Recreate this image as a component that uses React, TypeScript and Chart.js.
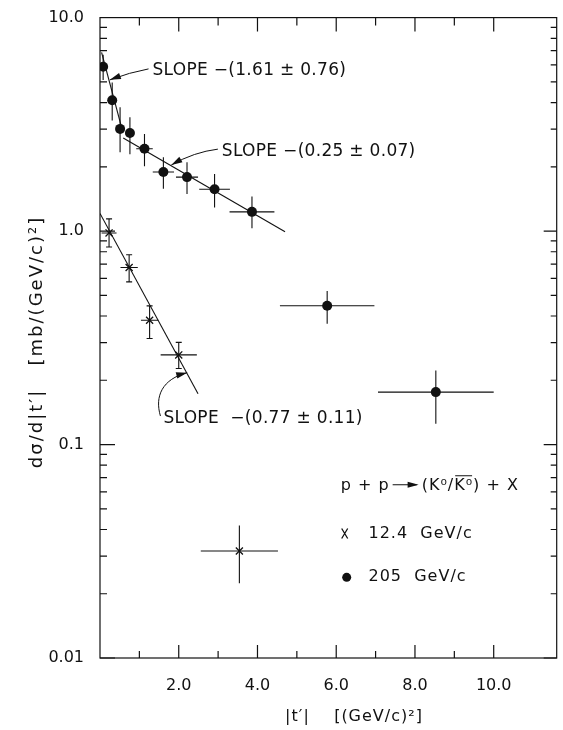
import React, { useEffect, useRef } from 'react';
import { Chart, registerables } from 'chart.js';

Chart.register(...registerables);

// ---- data: 205 GeV/c (filled circles) ----
const t205 = [0.08, 0.31, 0.51, 0.76, 1.13, 1.61, 2.21, 2.91, 3.86, 5.77, 8.53];
const v205 = [5.89, 4.10, 3.01, 2.88, 2.43, 1.89, 1.79, 1.57, 1.23, 0.447, 0.176];
const v205Low = [5.1, 3.3, 2.34, 2.29, 2.01, 1.58, 1.49, 1.29, 1.03, 0.368, 0.125];
const v205High = [6.7, 4.97, 3.8, 3.41, 2.85, 2.22, 2.1, 1.85, 1.45, 0.524, 0.222];
const t205Err = [0, 0, 0, 0, 0.21, 0.27, 0.28, 0.39, 0.57, 1.2, 1.47];

// ---- data: 12.4 GeV/c (crosses) ----
const t124 = [0.23, 0.74, 1.26, 2.0, 3.54];
const v124 = [0.98, 0.675, 0.382, 0.263, 0.0317];
const v124Low = [0.842, 0.578, 0.314, 0.227, 0.0224];
const v124High = [1.14, 0.775, 0.446, 0.301, 0.0418];
const t124Err = [0.19, 0.22, 0.22, 0.46, 0.98];
const v124Capped = [true, true, true, true, false];

// ---- fitted slopes (end points) ----
const fitSteepT = [0.04, 0.58];
const fitSteepV = [6.87, 2.91];
const fitShallowT = [0.59, 4.7];
const fitShallowV = [2.73, 0.993];
const fit124T = [0, 2.49];
const fit124V = [1.21, 0.173];

// ---- ticks ----
const yTickValues = [0.01, 0.1, 1, 10];
const yTickLabels = ['0.01', '0.1', '1.0', '10.0'];
const xTickValues = [2, 4, 6, 8, 10];
const xTickLabels = ['2.0', '4.0', '6.0', '8.0', '10.0'];

// ---- text ----
const slopeSteep = 'SLOPE \u2212(1.61 \u00b1 0.76)';
const slopeShallow = 'SLOPE \u2212(0.25 \u00b1 0.07)';
const slope124 = 'SLOPE  \u2212(0.77 \u00b1 0.11)';
const legend124 = '12.4  GeV/c';
const legend205 = '205  GeV/c';
const xTitle = '|t\u2032|    [(GeV/c)\u00b2]';
const yTitle = 'd\u03c3/d|t\u2032|   [mb/(GeV/c)\u00b2]';

const FONT = '"DejaVu Sans", sans-serif';
const INK = '#111';

function arrowHead(ctx: CanvasRenderingContext2D, x: number, y: number, ang: number, len = 11, w = 3.2) {
  const c = Math.cos(ang), s = Math.sin(ang);
  ctx.beginPath();
  ctx.moveTo(x, y);
  ctx.lineTo(x - len * c + w * s, y - len * s - w * c);
  ctx.lineTo(x - len * c - w * s, y - len * s + w * c);
  ctx.closePath();
  ctx.fill();
}

const errorBars = {
  id: 'errorBars',
  beforeDatasetsDraw(chart: any) {
    const { ctx, scales: { x, y } } = chart;
    ctx.save();
    ctx.strokeStyle = INK;
    ctx.lineWidth = 1.1;
    const bar = (t: number, v: number, lo: number, hi: number, dt: number, cap: boolean) => {
      const px = x.getPixelForValue(t);
      const py = y.getPixelForValue(v);
      const pLo = y.getPixelForValue(lo);
      const pHi = y.getPixelForValue(hi);
      ctx.beginPath();
      ctx.moveTo(px, pLo);
      ctx.lineTo(px, pHi);
      if (cap) {
        ctx.moveTo(px - 3, pLo); ctx.lineTo(px + 3, pLo);
        ctx.moveTo(px - 3, pHi); ctx.lineTo(px + 3, pHi);
      }
      if (dt > 0) {
        ctx.moveTo(x.getPixelForValue(t - dt), py);
        ctx.lineTo(x.getPixelForValue(t + dt), py);
      }
      ctx.stroke();
    };
    t205.forEach((t, i) => bar(t, v205[i], v205Low[i], v205High[i], t205Err[i], false));
    t124.forEach((t, i) => bar(t, v124[i], v124Low[i], v124High[i], t124Err[i], v124Capped[i]));
    ctx.restore();
  },
};

const frame = {
  id: 'frame',
  afterDatasetsDraw(chart: any) {
    const { ctx, chartArea: a, scales: { x, y } } = chart;
    const P = (t: number, v: number) => [x.getPixelForValue(t), y.getPixelForValue(v)];
    ctx.save();
    ctx.strokeStyle = INK;
    ctx.fillStyle = INK;
    ctx.lineWidth = 1.2;
    ctx.strokeRect(a.left, a.top, a.right - a.left, a.bottom - a.top);
    ctx.beginPath();
    for (let e = -2; e < 1; e++) {
      for (let m = 1; m <= 9; m++) {
        const py = y.getPixelForValue(m * Math.pow(10, e));
        const major = m === 1;
        ctx.moveTo(a.left, py); ctx.lineTo(a.left + (major ? 15 : 7), py);
        ctx.moveTo(a.right, py); ctx.lineTo(a.right - (major ? 13 : 6), py);
      }
    }
    for (let i = 1; i <= 10; i++) {
      const px = x.getPixelForValue(i);
      const major = i % 2 === 0;
      ctx.moveTo(px, a.bottom); ctx.lineTo(px, a.bottom - (major ? 13 : 7));
      ctx.moveTo(px, a.top); ctx.lineTo(px, a.top + (major ? 14 : 8));
    }
    ctx.stroke();

    // annotations
    ctx.lineWidth = 1;
    (ctx as any).letterSpacing = '0.3px';
    ctx.font = `17px ${FONT}`;
    ctx.textBaseline = 'middle';
    ctx.textAlign = 'left';
    let p = P(1.334, 5.66); ctx.fillText(slopeSteep, p[0], p[1]);
    p = P(3.095, 2.346); ctx.fillText(slopeShallow, p[0], p[1]);
    p = P(1.61, 0.1318); ctx.fillText(slope124, p[0], p[1]);

    // arrow 1
    let s = P(1.233, 5.75), c = P(0.755, 5.54), e = P(0.252, 5.11);
    ctx.beginPath(); ctx.moveTo(s[0], s[1]); ctx.quadraticCurveTo(c[0], c[1], e[0], e[1]); ctx.stroke();
    arrowHead(ctx, e[0], e[1], Math.atan2(e[1] - c[1], e[0] - c[0]));
    // arrow 2
    s = P(2.994, 2.42); c = P(2.39, 2.346); e = P(1.812, 2.04);
    ctx.beginPath(); ctx.moveTo(s[0], s[1]); ctx.quadraticCurveTo(c[0], c[1], e[0], e[1]); ctx.stroke();
    arrowHead(ctx, e[0], e[1], Math.atan2(e[1] - c[1], e[0] - c[0]));
    // arrow 3 (curved)
    s = P(1.535, 0.136); const c1 = P(1.384, 0.1687), c2 = P(1.585, 0.2025); e = P(2.214, 0.2171);
    ctx.beginPath(); ctx.moveTo(s[0], s[1]); ctx.bezierCurveTo(c1[0], c1[1], c2[0], c2[1], e[0], e[1]); ctx.stroke();
    arrowHead(ctx, e[0], e[1], Math.atan2(e[1] - c2[1], e[0] - c2[0]));

    // legend: reaction
    (ctx as any).letterSpacing = '1px';
    ctx.font = `16px ${FONT}`;
    let q = P(6.115, 0.0641);
    let cx = q[0];
    const cy = q[1];
    ctx.fillText('p + p', cx, cy);
    cx += ctx.measureText('p + p').width + 3;
    ctx.beginPath(); ctx.moveTo(cx, cy - 1); ctx.lineTo(cx + 24, cy - 1); ctx.stroke();
    arrowHead(ctx, cx + 26, cy - 1, 0, 11, 3);
    cx += 29;
    ctx.fillText('(K\u2070/', cx, cy);
    cx += ctx.measureText('(K\u2070/').width;
    const kbw = ctx.measureText('K\u2070').width;
    ctx.fillText('K\u2070', cx, cy);
    ctx.beginPath(); ctx.moveTo(cx + 1, cy - 10); ctx.lineTo(cx + kbw - 1, cy - 10); ctx.stroke();
    cx += kbw;
    ctx.fillText(') + X', cx, cy);

    // legend: 12.4
    q = P(6.215, 0.0383);
    ctx.lineWidth = 1.3;
    ctx.beginPath();
    ctx.moveTo(q[0] - 3, q[1] - 5); ctx.lineTo(q[0] + 3, q[1] + 5);
    ctx.moveTo(q[0] + 3, q[1] - 5); ctx.lineTo(q[0] - 3, q[1] + 5);
    ctx.stroke();
    q = P(6.82, 0.0383);
    ctx.fillText(legend124, q[0], q[1]);
    // legend: 205
    q = P(6.266, 0.02387);
    ctx.beginPath(); ctx.arc(q[0], q[1], 4.5, 0, Math.PI * 2); ctx.fill();
    q = P(6.82, 0.02387);
    ctx.fillText(legend205, q[0], q[1]);

    // axis titles
    ctx.font = `16px ${FONT}`;
    ctx.textAlign = 'center';
    ctx.fillText(xTitle, 354, 717);
    ctx.save();
    ctx.translate(37, 342);
    ctx.rotate(-Math.PI / 2);
    (ctx as any).letterSpacing = '2px';
    ctx.font = `18px ${FONT}`;
    ctx.fillText(yTitle, 0, 0);
    ctx.restore();

    ctx.restore();
  },
};

export default function App() {
  const ref = useRef<HTMLCanvasElement | null>(null);
  useEffect(() => {
    document.body.style.margin = '0';
    const canvas = ref.current;
    if (!canvas) return;
    const line = (ts: number[], vs: number[]) => ({
      data: ts.map((t, i) => ({ x: t, y: vs[i] })),
      showLine: true,
      pointRadius: 0,
      borderColor: INK,
      borderWidth: 1.1,
      fill: false,
    });
    const chart = new Chart(canvas, {
      type: 'scatter',
      data: {
        datasets: [
          {
            label: '205 GeV/c',
            data: t205.map((t, i) => ({ x: t, y: v205[i] })),
            pointStyle: 'circle',
            pointRadius: 5,
            backgroundColor: INK,
            borderColor: INK,
            borderWidth: 0,
          },
          {
            label: '12.4 GeV/c',
            data: t124.map((t, i) => ({ x: t, y: v124[i] })),
            pointStyle: 'crossRot',
            pointRadius: 5,
            borderColor: INK,
            borderWidth: 1.3,
          },
          { label: 'fit steep', ...line(fitSteepT, fitSteepV) },
          { label: 'fit shallow', ...line(fitShallowT, fitShallowV) },
          { label: 'fit 12.4', ...line(fit124T, fit124V) },
        ] as any,
      },
      options: {
        responsive: false,
        animation: false,
        layout: { padding: { top: 15, right: 2, left: 0, bottom: 0 } },
        plugins: { legend: { display: false }, tooltip: { enabled: false } },
        scales: {
          x: {
            type: 'linear',
            min: 0,
            max: 11.6,
            grid: { display: false },
            border: { display: false },
            ticks: {
              color: INK,
              padding: 10,
              font: { family: FONT, size: 16 },
              callback: (v: any) => xTickLabels[xTickValues.indexOf(Number(v))] ?? '',
            },
            afterBuildTicks: (s: any) => { s.ticks = xTickValues.map((v) => ({ value: v })); },
            afterFit: (s: any) => { s.height = 72; },
          },
          y: {
            type: 'logarithmic',
            min: 0.01,
            max: 10,
            grid: { display: false },
            border: { display: false },
            ticks: {
              color: INK,
              padding: 8,
              font: { family: FONT, size: 16 },
              callback: (v: any) => {
                const i = yTickValues.findIndex((u) => Math.abs(u - Number(v)) < u * 1e-6);
                return i >= 0 ? yTickLabels[i] : '';
              },
            },
            afterBuildTicks: (s: any) => { s.ticks = yTickValues.map((v) => ({ value: v })); },
            afterFit: (s: any) => { s.width = 100; },
          },
        },
      } as any,
      plugins: [errorBars, frame],
    });
    return () => chart.destroy();
  }, []);
  return <canvas ref={ref} width={563} height={730} style={{ display: 'block' }} />;
}
